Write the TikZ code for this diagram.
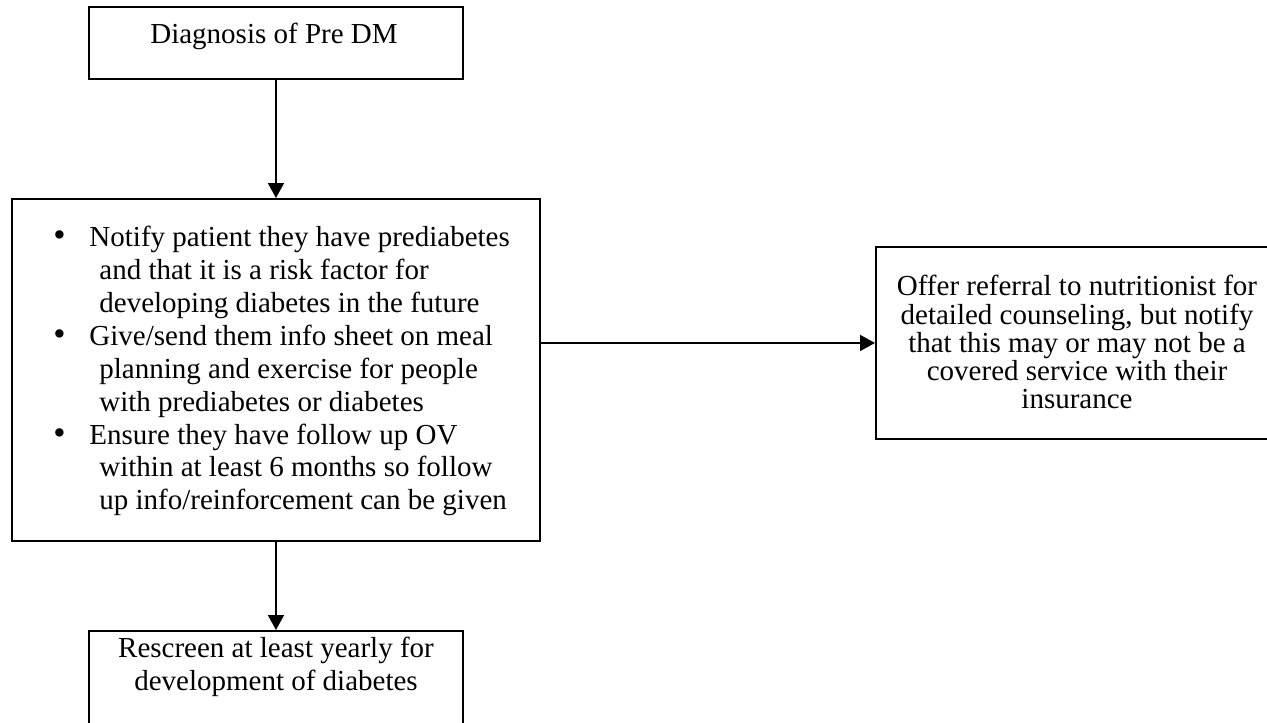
\documentclass[tikz,border=0pt]{standalone}
\usepackage{fontspec}
\setmainfont{Liberation Serif}
\usetikzlibrary{arrows.meta}
\newcommand{\bulletmark}{\makebox[14.9pt][l]{\fontsize{14.5pt}{13.6pt}\selectfont\textbullet}}
\begin{document}
\begin{tikzpicture}[x=0.4138pt,y=-0.4138pt,
  boxshape/.style={draw, line width=0.8pt, rectangle, inner sep=0pt, anchor=north west},
  txt/.style={inner sep=0pt, font=\fontsize{12pt}{13.6pt}\selectfont},
  conn/.style={line width=0.8pt, -{Triangle[length=6.2pt,width=6.6pt]}}]
\useasboundingbox (0,0) rectangle (1267,723);
\clip (0,0) rectangle (1267,723);
% boxes
\node[boxshape, minimum width=374*0.4138pt, minimum height=72*0.4138pt] (dx) at (88,6) {};
\node[boxshape, minimum width=528*0.4138pt, minimum height=342*0.4138pt] (notes) at (11,198) {};
\node[boxshape, minimum width=415*0.4138pt, minimum height=192*0.4138pt] (offer) at (875,246) {};
\node[boxshape, minimum width=374*0.4138pt, minimum height=140*0.4138pt] (rescreen) at (88,630) {};
% texts
\node[txt, anchor=base] (dxt) at (274,44) {Diagnosis of Pre DM};
\node[txt, anchor=north west, align=left] (notest) at (53,226) {%
\bulletmark Notify patient they have prediabetes\\
\hspace*{19pt}and that it is a risk factor for\\
\hspace*{19pt}developing diabetes in the future\\
\bulletmark Give/send them info sheet on meal\\
\hspace*{19pt}planning and exercise for people\\
\hspace*{19pt}with prediabetes or diabetes\\
\bulletmark Ensure they have follow up OV\\
\hspace*{19pt}within at least 6 months so follow\\
\hspace*{19pt}up info/reinforcement can be given};
\node[txt, font=\fontsize{12pt}{11.7pt}\selectfont, align=center, anchor=north] (offert) at (1077,275) {Offer referral to nutritionist for\\detailed counseling, but notify\\that this may or may not be a\\covered service with their\\insurance};
\node[txt, align=center, anchor=north] (rescreent) at (276,637) {Rescreen at least yearly for\\development of diabetes};
% connectors
\draw[conn] (dx.south) -- (notes.north);
\draw[conn] (offer.west -| notes.east) -- (offer.west);
\draw[conn] (notes.south) -- (rescreen.north);
\end{tikzpicture}
\end{document}
